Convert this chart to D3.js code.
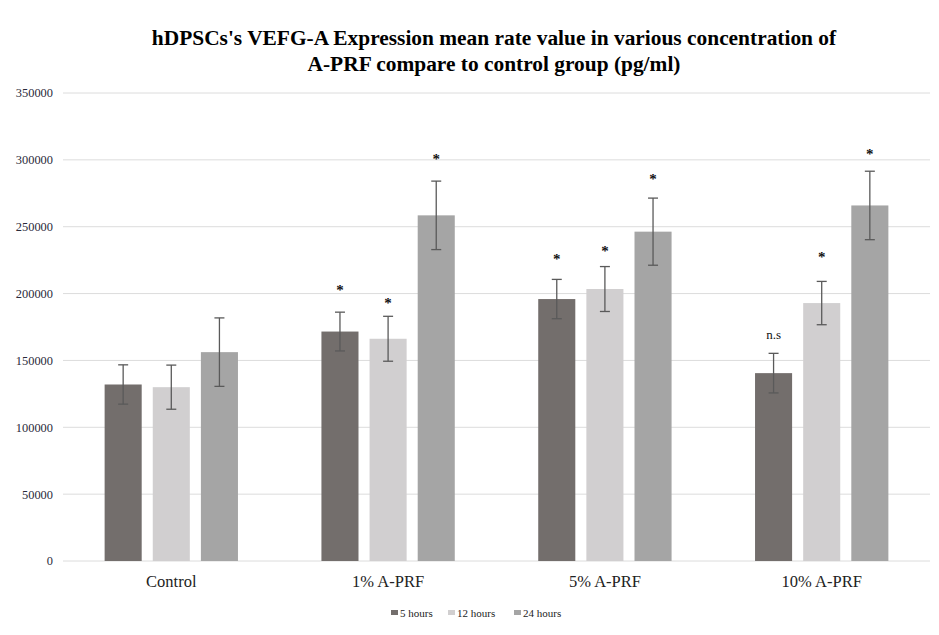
<!DOCTYPE html>
<html><head><meta charset="utf-8">
<script src="https://cdn.jsdelivr.net/npm/d3@7"></script>
<style>body{margin:0;background:#fff;} svg{display:block;}</style>
</head><body>
<svg id="chart" width="939" height="635"></svg>
<script>
const categories = ["Control", "1% A-PRF", "5% A-PRF", "10% A-PRF"];
const seriesNames = ["5 hours", "12 hours", "24 hours"];
const values5h  = [132000, 171600, 195900, 140500];
const values12h = [130000, 166200, 203400, 192900];
const values24h = [156200, 258500, 246300, 265900];
const err5h  = [14700, 14500, 14700, 14800];
const err12h = [16500, 16800, 16800, 16200];
const err24h = [25600, 25600, 25100, 25600];
const marks5h  = ["", "*", "*", "n.s"];
const marks12h = ["", "*", "*", "*"];
const marks24h = ["", "*", "*", "*"];
// vertical position of each significance mark, in data units
const markAt5h  = [0, 204100, 227300, 169200];
const markAt12h = [0, 194600, 233500, 228500];
const markAt24h = [0, 301900, 287200, 305900];
const yTicks = [0, 50000, 100000, 150000, 200000, 250000, 300000, 350000];
const colors = ["#736e6c", "#d1cfd0", "#a5a5a5"];

const series = [
  {name: seriesNames[0], vals: values5h, errs: err5h, marks: marks5h, at: markAt5h},
  {name: seriesNames[1], vals: values12h, errs: err12h, marks: marks12h, at: markAt12h},
  {name: seriesNames[2], vals: values24h, errs: err24h, marks: marks24h, at: markAt24h}
];

const svg = d3.select("#chart");
const mLeft = 63, mRight = 930, mTop = 93, mBottom = 561;
const y = d3.scaleLinear().domain([0, 350000]).range([mBottom, mTop]);
const x0 = d3.scaleBand().domain(categories).range([mLeft, mRight]).paddingInner(0.385).paddingOuter(0.192);
const x1 = d3.scaleBand().domain(seriesNames).range([0, x0.bandwidth()]).paddingInner(0.23);
const serif = "'Liberation Serif', 'Times New Roman', serif";

// title
const title = svg.append("text").attr("text-anchor", "middle")
  .style("font-family", serif)
  .style("font-weight", "bold").style("font-size", "21.4px").attr("fill", "#000");
title.append("tspan").attr("x", 494).attr("y", 45).text("hDPSCs's VEFG-A Expression mean rate value in various concentration of");
title.append("tspan").attr("x", 494).attr("y", 71).text("A-PRF compare to control group (pg/ml)");

// grid
svg.append("g").selectAll("line").data(yTicks).join("line")
  .attr("x1", mLeft).attr("x2", mRight)
  .attr("y1", d => y(d)).attr("y2", d => y(d))
  .attr("stroke", "#dcdcdc").attr("stroke-width", 1);

// y axis
const yAxis = d3.axisLeft(y).tickValues(yTicks).tickSize(0).tickPadding(10).tickFormat(d3.format("d"));
const yg = svg.append("g").attr("transform", `translate(${mLeft},0)`).call(yAxis);
yg.select(".domain").remove();
yg.selectAll("text").style("font-family", serif)
  .style("font-size", "12.4px").attr("fill", "#2a2a3a");

// bars
const groups = svg.append("g").selectAll("g").data(series).join("g")
  .attr("fill", (d, i) => colors[i]);
groups.each(function(s, si) {
  const g = d3.select(this);
  const data = categories.map((c, ci) => ({c, v: s.vals[ci], e: s.errs[ci], m: s.marks[ci], at: s.at[ci]}));
  g.selectAll("rect").data(data).join("rect")
    .attr("x", d => x0(d.c) + x1(s.name))
    .attr("width", x1.bandwidth())
    .attr("y", d => y(d.v))
    .attr("height", d => y(0) - y(d.v));
  const cx = d => x0(d.c) + x1(s.name) + x1.bandwidth() / 2;
  const eb = svg.append("g").attr("stroke", "#5a5a5a").attr("stroke-width", 1.3);
  eb.selectAll("line.v").data(data).join("line").attr("class", "v")
    .attr("x1", cx).attr("x2", cx).attr("y1", d => y(d.v + d.e)).attr("y2", d => y(d.v - d.e));
  eb.selectAll("line.t").data(data).join("line").attr("class", "t")
    .attr("x1", d => cx(d) - 5).attr("x2", d => cx(d) + 5).attr("y1", d => y(d.v + d.e)).attr("y2", d => y(d.v + d.e));
  eb.selectAll("line.b").data(data).join("line").attr("class", "b")
    .attr("x1", d => cx(d) - 5).attr("x2", d => cx(d) + 5).attr("y1", d => y(d.v - d.e)).attr("y2", d => y(d.v - d.e));
  svg.append("g").selectAll("text").data(data.filter(d => d.m)).join("text")
    .attr("x", cx)
    .attr("y", d => y(d.at) + (d.m === "*" ? 7 : 4))
    .attr("text-anchor", "middle")
    .style("font-family", serif)
    .style("font-size", d => d.m === "*" ? "15px" : "13px")
    .style("font-weight", d => d.m === "*" ? "bold" : "normal")
    .attr("fill", "#111")
    .text(d => d.m);
});

// x axis labels
const xAxis = d3.axisBottom(x0).tickSize(0).tickPadding(14);
const xg = svg.append("g").attr("transform", `translate(0,${mBottom})`).call(xAxis);
xg.select(".domain").remove();
xg.selectAll("text").style("font-family", serif)
  .style("font-size", "16.5px").attr("fill", "#222");

// legend
const legendX = [391, 448, 514];
const lg = svg.append("g").selectAll("g").data(seriesNames).join("g")
  .attr("transform", (d, i) => `translate(${legendX[i]},617)`);
lg.append("rect").attr("x", 0).attr("y", -7).attr("width", 7).attr("height", 5)
  .attr("fill", (d, i) => colors[i]);
lg.append("text").attr("x", 9).attr("y", 0)
  .style("font-family", serif)
  .style("font-size", "11px").attr("fill", "#222").text(d => d);
</script>
</body></html>
